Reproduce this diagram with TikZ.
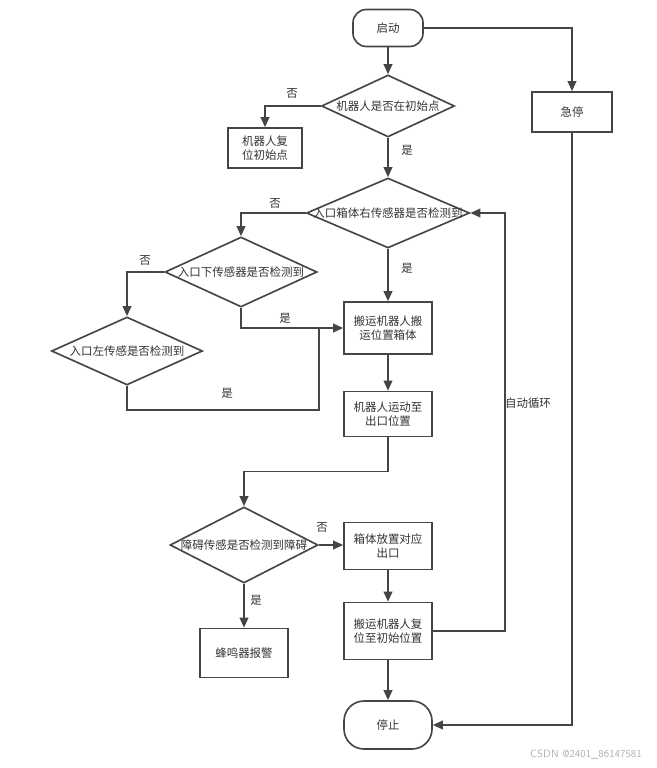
\documentclass[tikz,border=0pt]{standalone}
\usepackage{fontspec}
\usepackage{xcolor}
\usepackage{tikz}
\usetikzlibrary{arrows.meta,shapes.geometric,positioning}
\newfontfamily\cjk{Noto Sans CJK SC}

\definecolor{linegray}{HTML}{454545}
\definecolor{textgray}{HTML}{333333}

\begin{document}
\begin{tikzpicture}[x=0.03cm,y=-0.03cm,
		every node/.style={font=\cjk\fontsize{9.8}{12.5}\selectfont,text=textgray},
		box/.style={draw=linegray,line width=1.4pt,align=center,inner sep=0pt},
		term/.style={box,rounded corners=0.4cm},
		dia/.style={diamond,draw=linegray,line width=1.4pt,inner sep=0pt},
		flow/.style={draw=linegray,line width=1.4pt,-{Triangle[length=0.3cm,width=0.26cm]}},
		seg/.style={draw=linegray,line width=1.4pt}]
		\useasboundingbox (0,0) rectangle (657,768);
		% nodes
		\node[term,minimum width=2.1cm,minimum height=1.11cm] (start) at (388,28) {启动};
		\node[dia,minimum width=3.99cm,minimum height=1.86cm,label=center:{机器人是否在初始点}] (d1) at (388,106) {};
		\node[box,minimum width=2.22cm,minimum height=1.2cm] (home) at (265,148) {机器人复\\位初始点};
		\node[box,minimum width=2.4cm,minimum height=1.2cm] (estop) at (572,112) {急停};
		\node[dia,minimum width=4.89cm,minimum height=2.1cm,label=center:{入口箱体右传感器是否检测到}] (d2) at (388,213) {};
		\node[dia,minimum width=4.56cm,minimum height=2.1cm,label=center:{入口下传感器是否检测到}] (d3) at (241,272) {};
		\node[dia,minimum width=4.53cm,minimum height=2.04cm,label=center:{入口左传感是否检测到}] (d4) at (127,351) {};
		\node[box,minimum width=2.64cm,minimum height=1.56cm] (carry) at (388,328) {搬运机器人搬\\运位置箱体};
		\node[box,minimum width=2.64cm,minimum height=1.35cm] (move) at (388,414) {机器人运动至\\出口位置};
		\node[dia,minimum width=4.44cm,minimum height=2.28cm,label=center:{障碍传感是否检测到障碍}] (d5) at (244,545) {};
		\node[box,minimum width=2.64cm,minimum height=1.41cm] (place) at (388,546) {箱体放置对应\\出口};
		\node[box,minimum width=2.64cm,minimum height=1.47cm] (buzz) at (244,653) {蜂鸣器报警};
		\node[box,minimum width=2.64cm,minimum height=1.71cm] (back) at (388,631) {搬运机器人复\\位至初始位置};
		\node[term,rounded corners=0.6cm,minimum width=2.64cm,minimum height=1.44cm] (stop) at (388,725) {停止};
		\coordinate (join) at (319,327);
		\coordinate (low) at (319,410);
		% connectors
		\draw[flow] (start) -- (d1);
		\draw[flow] (d1.west) -| (home.north);
		\node at (292,93) {否};
		\draw[flow] (d1) -- (d2);
		\node at (407,150) {是};
		\draw[flow] (d2.west) -| (d3.north);
		\node at (275,203) {否};
		\draw[flow] (d3.west) -| (d4.north);
		\node at (145,260) {否};
		\draw[flow] (d3.south) |- (carry.west);
		\node at (285,318) {是};
		\draw[seg] (d4.south) |- (low) -- (join);
		\node at (227,393) {是};
		\draw[flow] (d2) -- (carry);
		\node at (407,268) {是};
		\draw[flow] (carry) -- (move);
		\draw[flow] (move.south) -- ++(0,34) -| (d5.north);
		\draw[flow] (d5.east) -- (d5.east -| place.west);
		\node at (322,527) {否};
		\draw[flow] (d5) -- (buzz);
		\node at (256,600) {是};
		\draw[flow] (place) -- (back);
		\draw[flow] (back.east) -- ++(72,0) |- (d2.east);
		\node at (528,403) {自动循环};
		\draw[flow] (back) -- (stop);
		\draw[flow] (start.east) -| (estop.north);
		\draw[flow] (estop.south) |- (stop.east);
		% watermark
		\node[font=\sffamily\fontsize{9}{10}\selectfont,text=gray!60] at (586,755) {CSDN @2401\_86147581};
\end{tikzpicture}
\end{document}
